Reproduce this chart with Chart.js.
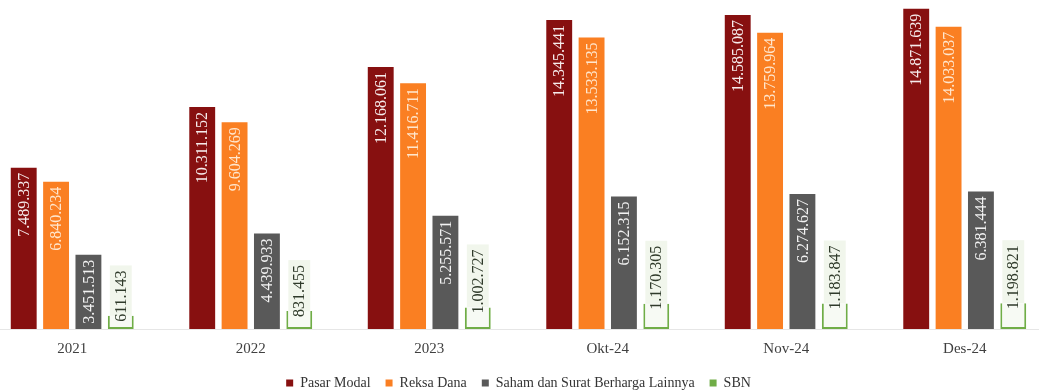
<!DOCTYPE html>
<html>
<head>
<meta charset="utf-8">
<script src="https://cdn.jsdelivr.net/npm/chart.js@4"></script>
<style>
  html, body { margin: 0; padding: 0; background: #ffffff; overflow: hidden; }
  #wrap { position: absolute; left: -17px; top: 0; width: 1071px; height: 400px; }
</style>
</head>
<body>
<div id="wrap"><canvas id="myChart" width="1071" height="400"></canvas></div>
<script>
const categories = ["2021", "2022", "2023", "Okt-24", "Nov-24", "Des-24"];
const pasarModal = [7489337, 10311152, 12168061, 14345441, 14585087, 14871639];
const reksaDana = [6840234, 9604269, 11416711, 13533135, 13759964, 14033037];
const saham = [3451513, 4439933, 5255571, 6152315, 6274627, 6381444];
const sbn = [611143, 831455, 1002727, 1170305, 1183847, 1198821];

const seriesNames = ["Pasar Modal", "Reksa Dana", "Saham dan Surat Berharga Lainnya", "SBN"];
const solidColors = ["#871010", "#fa7f22", "#595959", "#70ad47"];
const FONT = "'Liberation Serif', 'DejaVu Serif', serif";

function fmt(v) {
  return String(v).replace(/\B(?=(\d{3})+(?!\d))/g, ".");
}

// vertical value labels drawn on the bars
const valueLabels = {
  id: "valueLabels",
  afterDatasetsDraw(chart) {
    const c = chart.ctx;
    chart.data.datasets.forEach((ds, i) => {
      const meta = chart.getDatasetMeta(i);
      meta.data.forEach((bar, j) => {
        const txt = fmt(ds.data[j]);
        c.save();
        c.font = "16px " + FONT;
        const w = c.measureText(txt).width;
        if (i === 3) {
          const bottom = bar.y + 6;
          const top = bottom - w - 5;
          c.fillStyle = "#f1f6ec";
          c.fillRect(bar.x - bar.width / 2 + 2, top, bar.width - 4, bar.y - top);
          c.translate(bar.x, bottom);
          c.rotate(-Math.PI / 2);
          c.fillStyle = "#2f3a2a";
          c.textAlign = "left";
          c.textBaseline = "middle";
          c.fillText(txt, 0, 1);
        } else {
          c.translate(bar.x, bar.y + 5);
          c.rotate(-Math.PI / 2);
          c.fillStyle = i === 1 ? "rgba(255,236,215,0.95)" : "rgba(255,255,255,0.92)";
          c.textAlign = "right";
          c.textBaseline = "middle";
          c.fillText(txt, 0, 1);
        }
        c.restore();
      });
    });
  }
};

const ctx = document.getElementById("myChart");

new Chart(ctx, {
  type: "bar",
  data: {
    labels: categories,
    datasets: [
      { label: seriesNames[0], data: pasarModal, backgroundColor: solidColors[0] },
      { label: seriesNames[1], data: reksaDana, backgroundColor: solidColors[1] },
      { label: seriesNames[2], data: saham, backgroundColor: solidColors[2] },
      {
        label: seriesNames[3],
        data: sbn,
        backgroundColor: "#f7faf4",
        borderColor: solidColors[3],
        borderWidth: { top: 0, left: 2, right: 2, bottom: 2 },
        borderSkipped: false,
      },
    ],
  },
  options: {
    responsive: false,
    animation: false,
    categoryPercentage: 0.725,
    barPercentage: 0.8,
    layout: { padding: { top: 6, left: 0, right: 0, bottom: 0 } },
    scales: {
      x: {
        grid: { display: false },
        border: { color: "#e6e6e6" },
        ticks: { color: "#404040", font: { family: FONT, size: 15 }, padding: 3 },
      },
      y: { display: false, min: 0, max: 15000000 },
    },
    plugins: {
      tooltip: { enabled: false },
      legend: {
        position: "bottom",
        labels: {
          color: "#333333",
          font: { family: FONT, size: 14 },
          boxWidth: 7,
          boxHeight: 7,
          padding: 15,
          generateLabels(chart) {
            return chart.data.datasets.map((ds, i) => ({
              text: ds.label,
              fillStyle: solidColors[i],
              strokeStyle: solidColors[i],
              lineWidth: 0,
              datasetIndex: i,
              fontColor: "#333333",
            }));
          },
        },
      },
    },
  },
  plugins: [valueLabels],
});
</script>
</body>
</html>
